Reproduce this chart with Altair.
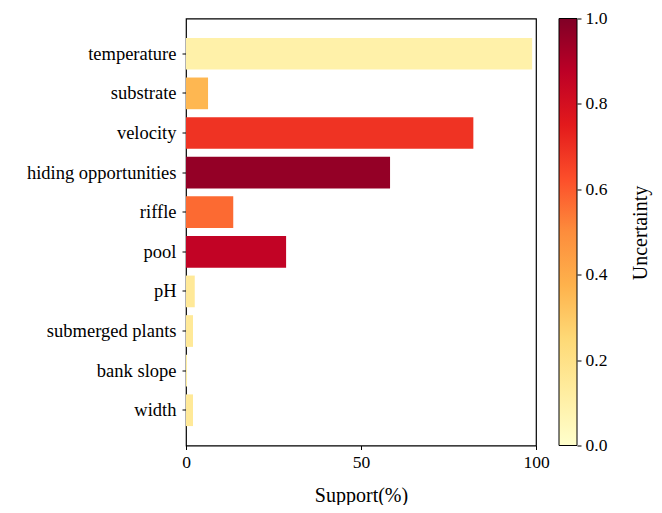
import altair as alt
import pandas as pd

features = ["temperature", "substrate", "velocity", "hiding opportunities", "riffle",
            "pool", "pH", "submerged plants", "bank slope", "width"]
support = [98.9, 6.3, 82.1, 58.3, 13.5, 28.6, 2.5, 2.0, 0.3, 2.0]
uncertainty = [0.10, 0.36, 0.69, 0.96, 0.57, 0.86, 0.15, 0.15, 0.12, 0.15]
legend_title = ["Uncertainty"]
cbar_ticks = [0, 0.2, 0.4, 0.6, 0.8, 1.0]

# YlOrRd colour map stops
ylorrd = ['#ffffcc', '#ffeda0', '#fed976', '#feb24c', '#fd8d3c',
          '#fc4e2a', '#e31a1c', '#bd0026', '#800026']
ylorrd_stops = [i / 8 for i in range(9)]

df = pd.DataFrame({"feature": features, "support": support, "uncertainty": uncertainty})

FONT = "'Liberation Serif', 'Times New Roman', serif"

bars = alt.Chart(df).mark_bar().encode(
    y=alt.Y("feature:N", sort=features,
            scale=alt.Scale(paddingInner=0.2, paddingOuter=0.49),
            axis=alt.Axis(title=None, labelFontSize=18.5, labelPadding=6, tickSize=4,
                          tickColor="black", domain=False, labelColor="black",
                          labelFont=FONT)),
    x=alt.X("support:Q", scale=alt.Scale(domain=[0, 100], nice=False),
            axis=alt.Axis(title="Support(%)", values=[0, 50, 100], grid=False,
                          labelFontSize=17.5, titleFontSize=20, titleFontWeight="normal",
                          titlePadding=14, tickSize=4, tickColor="black",
                          domain=False, labelColor="black", titleColor="black",
                          labelFont=FONT, titleFont=FONT, labelPadding=4,
                          labelFlush=False)),
    color=alt.Color("uncertainty:Q",
                    scale=alt.Scale(domain=ylorrd_stops, range=ylorrd, interpolate="rgb"),
                    legend=None),
)

# colour bar: a gradient-filled box plus its own 0..1 axis on the right
grad = alt.Gradient(
    gradient="linear",
    stops=[alt.GradientStop(offset=o, color=c) for o, c in zip(ylorrd_stops, ylorrd)],
    x1=0, x2=0, y1=1, y2=0,
)
cbar_box = alt.Chart(pd.DataFrame({"t": legend_title})).mark_rect(
    fill=grad, stroke="black", strokeWidth=1
).encode(x=alt.value(373), x2=alt.value(391), y=alt.value(0), y2=alt.value(427))

cbar_axis = alt.Chart(pd.DataFrame({"v": cbar_ticks})).mark_point(opacity=0).encode(
    x=alt.value(382),
    y=alt.Y("v:Q", scale=alt.Scale(domain=[0, 1], nice=False),
            axis=alt.Axis(orient="right", offset=41, values=cbar_ticks, format=".1f",
                          title=None, grid=False, domain=False, tickSize=4,
                          tickColor="black", labelColor="black", labelFont=FONT,
                          labelFontSize=17.5, labelPadding=4, labelFlush=False)),
)

title_txt = alt.Chart(pd.DataFrame({"t": legend_title})).mark_text(
    angle=270, fontSize=20, font=FONT, color="black", baseline="middle", align="center"
).encode(text="t:N", x=alt.value(455), y=alt.value(214.5))

chart = alt.layer(bars, cbar_box, cbar_axis, title_txt).resolve_scale(
    y="independent"
).resolve_axis(y="independent").properties(
    width=350, height=427,
    autosize=alt.AutoSizeParams(type="none"),
    padding={"left": 178, "top": 10.5, "right": 118, "bottom": 59},
).configure_view(stroke="black", strokeWidth=1.2)

chart.save("out.html", embed_options={"renderer": "svg", "actions": False})
